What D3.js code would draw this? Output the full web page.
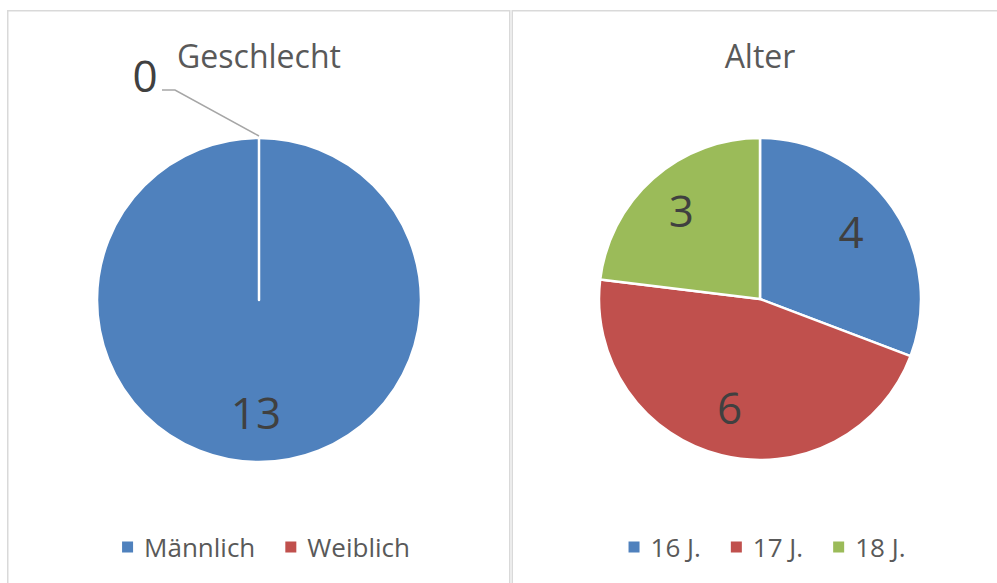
<!DOCTYPE html>
<html>
<head>
<meta charset="utf-8">
<script src="https://cdn.jsdelivr.net/npm/d3@7"></script>
<style>
  body { margin: 0; background: #fff; }
  text { font-family: "Open Sans", sans-serif; }
</style>
</head>
<body>
<svg id="svg-container"></svg>
<script>
const genderLabels = ["Männlich", "Weiblich"];
const genderValues = [13, 0];
const ageLabels = ["16 J.", "17 J.", "18 J."];
const ageValues = [4, 6, 3];
const colors = ["#4F81BD", "#C0504D", "#9BBB59"];

const width = 997;
const height = 583;

const svg = d3.select("#svg-container")
    .attr("width", width)
    .attr("height", height);

const color = d3.scaleOrdinal().range(colors);

// chart frames
svg.append("rect")
    .attr("x", 7.75).attr("y", 10.75)
    .attr("width", 502).attr("height", 600)
    .attr("fill", "none").attr("stroke", "#D9D9D9").attr("stroke-width", 1.5);
svg.append("rect")
    .attr("x", 512.25).attr("y", 10.75)
    .attr("width", 500).attr("height", 600)
    .attr("fill", "none").attr("stroke", "#D9D9D9").attr("stroke-width", 1.5);

const pie = d3.pie().sort(null).value(d => d.value);

function drawPie(cx, cy, r, title, labels, values, outsideZero) {
    const data = labels.map((l, i) => ({ label: l, value: values[i] }));
    const arcs = pie(data);
    const arc = d3.arc().innerRadius(0).outerRadius(r);
    const labelArc = d3.arc().innerRadius(r * 0.71).outerRadius(r * 0.71);

    const g = svg.append("g").attr("transform", `translate(${cx},${cy})`);

    g.append("text")
        .attr("x", 0).attr("y", -cy + 55)
        .attr("text-anchor", "middle")
        .attr("dominant-baseline", "central")
        .attr("font-size", "32px")
        .attr("fill", "#595959")
        .text(title);

    g.selectAll("path")
        .data(arcs)
        .enter()
        .append("path")
        .attr("d", arc)
        .attr("fill", d => color(d.index))
        .attr("stroke", "#fff")
        .attr("stroke-width", 2.5)
        .attr("stroke-linejoin", "round");

    arcs.forEach(d => {
        if (d.data.value > 0) {
            const [x, y] = labelArc.centroid(d);
            g.append("text")
                .attr("x", x - 3).attr("y", y - 3)
                .attr("text-anchor", "middle")
                .attr("dominant-baseline", "central")
                .attr("font-size", "44px")
                .attr("fill", "#404040")
                .text(d.data.value);
        } else if (outsideZero) {
            // zero slice: label outside with leader line
            const a = d.startAngle;
            const px = Math.sin(a) * (r + 2), py = -Math.cos(a) * (r + 2);
            const ex = px - 84, ey = py - 46;
            g.append("polyline")
                .attr("points", [[px, py], [ex, ey], [ex - 13, ey]].join(" "))
                .attr("fill", "none")
                .attr("stroke", "#A6A6A6")
                .attr("stroke-width", 1.5);
            g.append("text")
                .attr("x", ex - 30).attr("y", ey - 15)
                .attr("text-anchor", "middle")
                .attr("dominant-baseline", "central")
                .attr("font-size", "44px")
                .attr("fill", "#404040")
                .text(d.data.value);
        }
    });
}

function drawLegend(cx, y, labels) {
    const g = svg.append("g");
    let x = 0;
    labels.forEach((l, i) => {
        g.append("rect")
            .attr("x", x).attr("y", y - 5.5)
            .attr("width", 11).attr("height", 11)
            .attr("fill", color(i));
        const t = g.append("text")
            .attr("x", x + 22).attr("y", y)
            .attr("dominant-baseline", "central")
            .attr("font-size", "26px")
            .attr("fill", "#595959")
            .text(l);
        x += 22 + t.node().getComputedTextLength() + 30;
    });
    const w = x - 30;
    g.attr("transform", `translate(${cx - w / 2},0)`);
}

drawPie(259, 300, 162, "Geschlecht", genderLabels, genderValues, true);
drawPie(760, 299, 161, "Alter", ageLabels, ageValues, false);
drawLegend(266, 547, genderLabels);
drawLegend(767, 547, ageLabels);
</script>
</body>
</html>
